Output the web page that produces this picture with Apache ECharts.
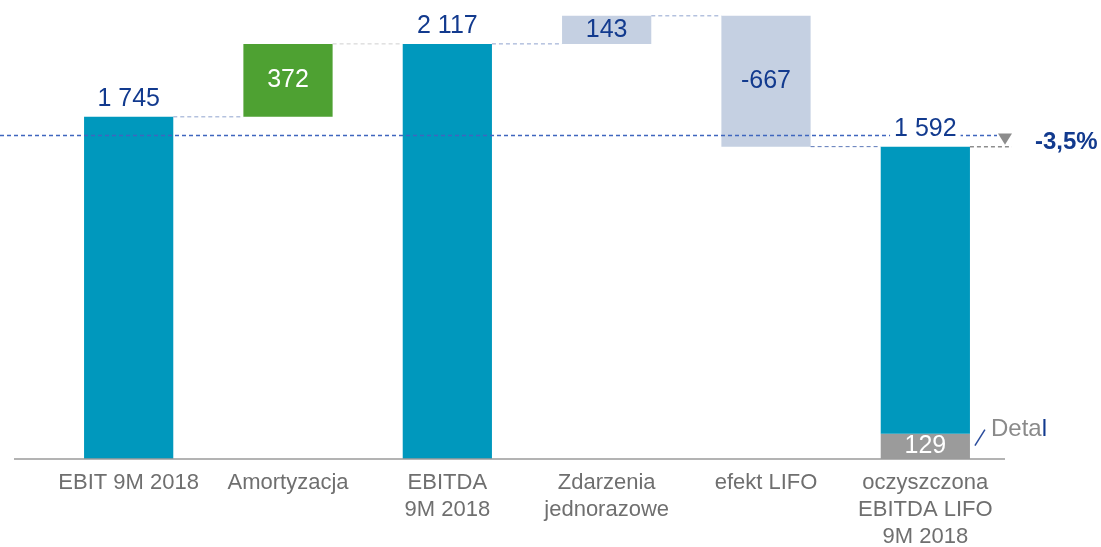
<!DOCTYPE html>
<html>
<head>
<meta charset="utf-8">
<script src="https://cdn.jsdelivr.net/npm/echarts@6/dist/echarts.min.js"></script>
<style>
  html, body { margin: 0; padding: 0; background: #ffffff; }
  #chart { width: 1101px; height: 547px; }
</style>
</head>
<body>
<div id="chart"></div>
<script>
// Bridge from EBIT to clean LIFO EBITDA, 9M 2018 (PLN m)
const categories = ['EBIT 9M 2018', 'Amortyzacja', 'EBITDA\n9M 2018', 'Zdarzenia\njednorazowe', 'efekt LIFO', 'oczyszczona\nEBITDA LIFO\n9M 2018'];
const values = [1745, 372, 2117, 143, -667, 1592];
const kinds = ['total', 'delta', 'total', 'delta', 'delta', 'total'];
const detalValue = 129;          // retail part of the final bar
const detalLabel = 'Detal';
const priorValue = 1650;         // comparison level (dashed reference line)
const changeLabel = '-3,5%';

const FONT = '"Liberation Sans", Arial, sans-serif';
const TEAL = '#0098BD';
const GREEN = '#4EA132';
const PALE = '#C5D0E2';
const GREY = '#9B9B9B';
const NAVY = '#123A8E';
const LAST = values.length - 1;

function fmt(v) {
  const s = String(Math.abs(v)).replace(/\B(?=(\d{3})+(?!\d))/g, ' ');
  return (v < 0 ? '-' : '') + s;
}

// Waterfall geometry: transparent base + visible body, and running level after each step
const base = [], body = [], detal = [], levels = [];
let running = 0;
values.forEach((v, i) => {
  if (kinds[i] === 'total') {
    base.push(0);
    const d = i === LAST ? detalValue : 0;
    detal.push(d);
    body.push(v - d);
    running = v;
  } else {
    detal.push(0);
    if (v >= 0) { base.push(running); body.push(v); }
    else { base.push(running + v); body.push(-v); }
    running += v;
  }
  levels.push(running);
});

const bodyColor = i => kinds[i] === 'total' ? TEAL : (i === 1 ? GREEN : PALE);

const bodyData = body.map((b, i) => {
  const item = { value: b, itemStyle: { color: bodyColor(i) } };
  if (i === LAST) {
    item.label = { show: false };
  } else if (kinds[i] === 'total') {
    item.label = { show: true, position: 'top', distance: 5, color: NAVY, formatter: () => fmt(values[i]) };
  } else {
    item.label = { show: true, position: 'inside', color: i === 1 ? '#ffffff' : NAVY, formatter: () => fmt(values[i]) };
  }
  return item;
});

const connectorColors = ['#8FA3CE', '#CFCFCF', '#8FA3CE', '#8FA3CE', '#5D79B8'];
const BAR_RATIO = 0.56;

function renderAnnotations(params, api) {
  const band = api.size([1, 0])[0];
  const half = band * BAR_RATIO / 2;
  const kids = [];
  const dash = { lineWidth: 1, lineDash: [4, 3] };

  // connectors between consecutive bars
  for (let i = 0; i < LAST; i++) {
    const p1 = api.coord([i, levels[i]]);
    const p2 = api.coord([i + 1, levels[i]]);
    kids.push({ type: 'line', shape: { x1: p1[0] + half, y1: p1[1], x2: p2[0] - half, y2: p2[1] },
      style: Object.assign({ stroke: connectorColors[i] }, dash) });
  }

  const fTop = api.coord([LAST, values[LAST]]);
  const fZero = api.coord([LAST, 0]);
  const fDet = api.coord([LAST, detalValue]);
  const ref = api.coord([LAST, priorValue]);
  const gridRight = fTop[0] + band / 2;
  const refY = Math.round(ref[1]) + 0.5;

  // baseline across the plot
  kids.push({ type: 'line', shape: { x1: 14, y1: fZero[1], x2: gridRight, y2: fZero[1] },
    style: { stroke: '#9A9A9A', lineWidth: 1.5 } });

  // comparison level
  kids.push({ type: 'line', shape: { x1: 0, y1: refY, x2: gridRight - 8, y2: refY },
    style: { stroke: '#3F66BE', lineWidth: 1.3, lineDash: [4, 3] } });
  kids.push({ type: 'line', shape: { x1: fTop[0] + half, y1: fTop[1], x2: gridRight + 7, y2: fTop[1] },
    style: Object.assign({ stroke: '#555555' }, dash) });

  // change marker
  kids.push({ type: 'polygon', shape: { points: [[gridRight - 7, ref[1] - 2], [gridRight + 7, ref[1] - 2], [gridRight, fTop[1] - 2]] },
    style: { fill: '#8C8C8C' } });
  kids.push({ type: 'text', style: { x: gridRight + 30, y: (ref[1] + fTop[1]) / 2 + 1, text: changeLabel,
    fill: NAVY, font: 'bold 24px ' + FONT, textAlign: 'left', textVerticalAlign: 'middle' } });

  // total label of the final bar (sits over the reference line)
  kids.push({ type: 'text', style: { x: fTop[0], y: fTop[1] - 5, text: fmt(values[LAST]),
    fill: NAVY, font: '25px ' + FONT, textAlign: 'center', textVerticalAlign: 'bottom',
    backgroundColor: '#ffffff', padding: [0, 4, 0, 4] } });

  // retail segment caption
  kids.push({ type: 'line', shape: { x1: fTop[0] + half + 5, y1: fDet[1] + 12, x2: fTop[0] + half + 15, y2: fDet[1] - 4 },
    style: { stroke: '#2A4C9C', lineWidth: 1.5 } });
  kids.push({ type: 'text', style: { x: fTop[0] + half + 21, y: fDet[1] - 4, text: '{g|' + detalLabel.slice(0, -1) + '}{b|' + detalLabel.slice(-1) + '}',
    textAlign: 'left', textVerticalAlign: 'middle',
    rich: { g: { fill: '#8A8A8A', font: '24px ' + FONT }, b: { fill: NAVY, font: '24px ' + FONT } } } });

  return { type: 'group', children: kids };
}

const chart = echarts.init(document.getElementById('chart'), null, { renderer: 'canvas' });
chart.setOption({
  animation: false,
  backgroundColor: '#ffffff',
  textStyle: { fontFamily: FONT },
  grid: { left: 49, right: 96, top: 8, bottom: 88, containLabel: false, outerBoundsMode: 'none' },
  xAxis: {
    type: 'category',
    data: categories,
    axisLine: { show: false },
    axisTick: { show: false },
    axisLabel: { color: '#6F6F6F', fontSize: 22, lineHeight: 27, margin: 10, interval: 0, fontFamily: FONT }
  },
  yAxis: { type: 'value', min: 0, max: 2300, show: false, splitLine: { show: false } },
  series: [
    { name: 'base', type: 'bar', stack: 'w', barWidth: (BAR_RATIO * 100) + '%', silent: true,
      itemStyle: { color: 'transparent' }, data: base, z: 2 },
    { name: 'detal', type: 'bar', stack: 'w', barWidth: (BAR_RATIO * 100) + '%',
      itemStyle: { color: GREY },
      label: { show: true, position: 'inside', color: '#ffffff', fontSize: 25, fontFamily: FONT,
        formatter: p => p.value ? fmt(p.value) : '' },
      data: detal, z: 2 },
    { name: 'body', type: 'bar', stack: 'w', barWidth: (BAR_RATIO * 100) + '%',
      label: { fontSize: 25, fontFamily: FONT },
      data: bodyData, z: 2 },
    { name: 'annotations', type: 'custom', renderItem: renderAnnotations, data: [[0]], clip: false, silent: true, z: 3 }
  ]
});
</script>
</body>
</html>
